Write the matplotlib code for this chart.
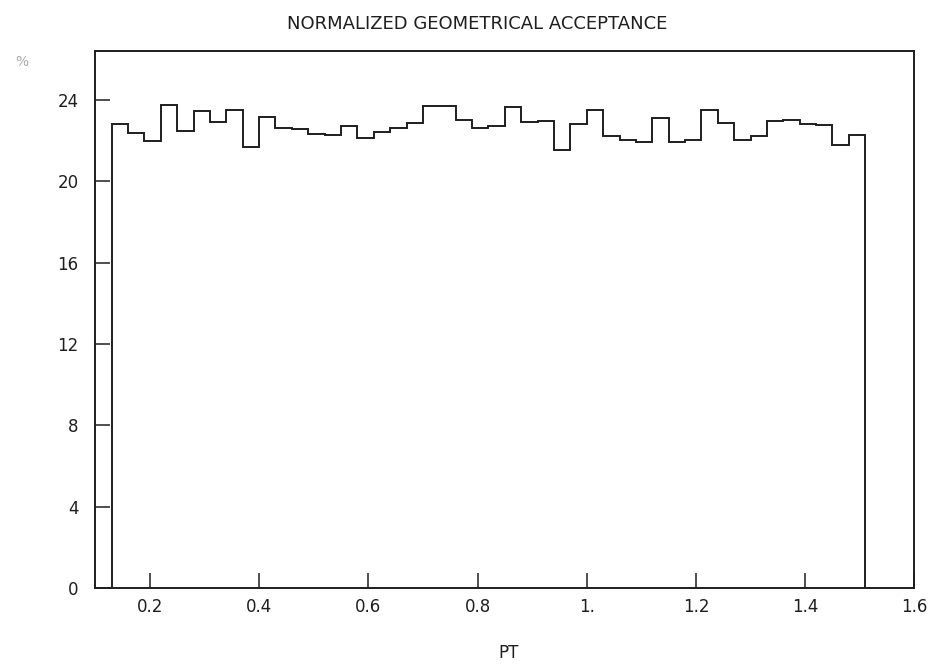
import numpy as np
import matplotlib
matplotlib.use('Agg')
import matplotlib.pyplot as plt

plt.rcParams['font.family'] = ['DejaVu Sans']

# 直方图数据（PT 分箱，0.13 到 1.51，共 46 箱）
pt_lo = 0.13
pt_hi = 1.51
acceptance = [22.80, 22.39, 21.98, 23.75, 22.47, 23.47, 22.93, 23.51, 21.69, 23.18,
              22.62, 22.58, 22.32, 22.30, 22.73, 22.11, 22.44, 22.63, 22.88, 23.70,
              23.70, 23.01, 22.62, 22.70, 23.64, 22.90, 22.98, 21.53, 22.81, 23.51,
              22.22, 22.02, 21.94, 23.10, 21.95, 22.05, 23.51, 22.85, 22.02, 22.24,
              22.95, 23.00, 22.81, 22.78, 21.78, 22.27]

x_ticks = [0.2, 0.4, 0.6, 0.8, 1.0, 1.2, 1.4, 1.6]
x_tick_labels = ['0.2', '0.4', '0.6', '0.8', '1.', '1.2', '1.4', '1.6']
y_ticks = [0, 4, 8, 12, 16, 20, 24]

edges = np.linspace(pt_lo, pt_hi, len(acceptance) + 1)

fig = plt.figure(figsize=(9.34, 6.65), dpi=100)
ax = fig.add_axes([0.102, 0.116, 0.877, 0.807])

ink = '#1e1e1e'
ax.stairs(acceptance, edges, baseline=0, fill=False, color=ink, linewidth=1.4)

ax.set_xlim(0.1, 1.6)
ax.set_ylim(0, 26.4)
ax.set_xticks(x_ticks)
ax.set_xticklabels(x_tick_labels)
ax.set_yticks(y_ticks)

for s in ax.spines.values():
    s.set_linewidth(1.4)
    s.set_color(ink)

ax.tick_params(axis='both', direction='in', length=11, width=1.1, colors=ink,
               labelsize=12, top=False, right=False)
ax.tick_params(axis='x', pad=7)
ax.tick_params(axis='y', pad=12)

# 标题和坐标标签
fig.text(0.511, 1 - 24 / 665, 'NORMALIZED GEOMETRICAL ACCEPTANCE',
         ha='center', va='center', fontsize=13, color=ink)
fig.text(0.545, 0.018, 'PT', ha='center', va='center', fontsize=12, color=ink)
fig.text(22 / 934, 1 - 62 / 665, '%', ha='center', va='center', fontsize=10,
         color='#aaaaaa')

fig.savefig('out.png', dpi=100)
